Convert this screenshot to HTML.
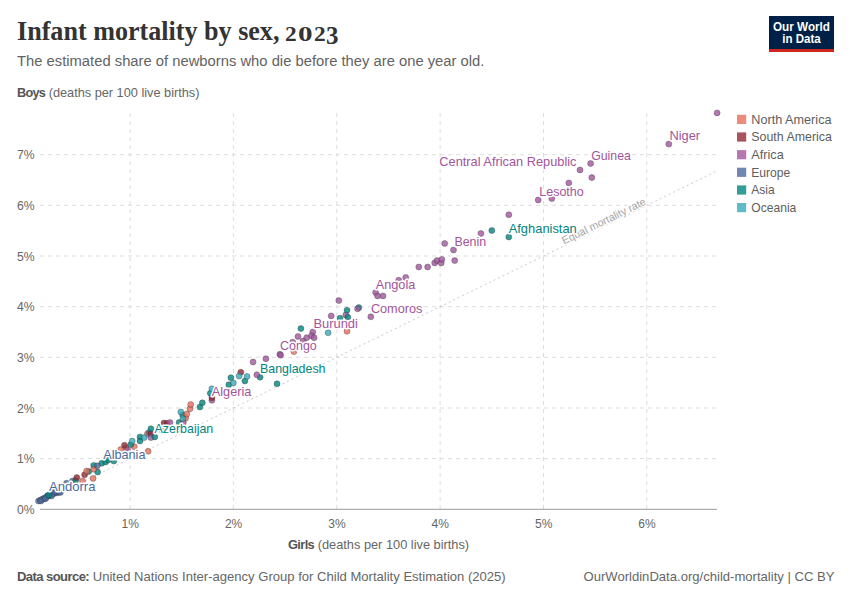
<!DOCTYPE html>
<html><head><meta charset="utf-8">
<style>
html,body{margin:0;padding:0;background:#fff;}
body{width:850px;height:600px;position:relative;overflow:hidden;font-family:"Liberation Sans",sans-serif;}
.t{position:absolute;white-space:nowrap;line-height:1;}
#title{left:16.6px;top:18.4px;font-family:"Liberation Serif",serif;font-weight:bold;font-size:26.7px;color:#333;transform:scaleX(0.978);transform-origin:0 0;}
#sub{left:16.5px;top:53.4px;font-size:15.3px;color:#636363;transform:scaleX(0.966);transform-origin:0 0;}
#ylab{left:16.6px;top:85.5px;font-size:13px;color:#666;transform:scaleX(0.98);transform-origin:0 0;}
#xlab{left:288.3px;top:538px;font-size:13px;color:#666;transform:scaleX(0.984);transform-origin:0 0;}
#foot{left:16.6px;top:570px;font-size:13px;color:#666;transform:scaleX(1.0045);transform-origin:0 0;}
#foot2{right:15.5px;top:570px;font-size:13px;color:#666;transform:scaleX(1.006);transform-origin:100% 0;}
#logo{position:absolute;left:769px;top:16px;width:65px;height:36px;background:#002147;}
#logo .bar{position:absolute;left:0;bottom:0;width:100%;height:3px;background:#ce261e;}
#logo .lt{position:absolute;left:0;width:100%;text-align:center;color:#fff;font-weight:bold;font-size:12px;line-height:12px;}
.yr{top:23.7px;font-family:"Liberation Serif",serif;font-weight:bold;font-size:20.5px;color:#333;}
svg{position:absolute;left:0;top:0;}
svg text{font-family:"Liberation Sans",sans-serif;}
.tk{font-size:13.2px;fill:#666;}
.lb{font-size:12.4px;stroke:#fff;stroke-width:2.8px;paint-order:stroke;stroke-linejoin:round;}
.lg{font-size:12.4px;fill:#5e5e5e;}
</style></head><body>
<div class="t" id="title">Infant mortality by sex,</div><div class="t yr" style="left:285.3px;transform:scaleX(1.14);transform-origin:0 0">2</div><div class="t yr" style="left:297.6px;transform:scaleX(1.42);transform-origin:0 0">0</div><div class="t yr" style="left:313.7px;transform:scaleX(1.14);transform-origin:0 0">2</div><div class="t yr" style="left:326px;top:23.2px;font-size:25px">3</div>
<div class="t" id="sub">The estimated share of newborns who die before they are one year old.</div>
<div class="t" id="ylab"><b style="letter-spacing:-0.78px;color:#555">Boys</b> (deaths per 100 live births)</div>
<div class="t" id="xlab"><b style="letter-spacing:-0.62px;color:#555">Girls</b> (deaths per 100 live births)</div>
<div class="t" id="foot"><b style="letter-spacing:-0.58px;color:#555">Data source:</b> United Nations Inter-agency Group for Child Mortality Estimation (2025)</div>
<div class="t" id="foot2">OurWorldinData.org/child-mortality | CC BY</div>
<div id="logo"><div class="lt" style="top:5px;left:0.1px;transform:scaleX(0.975)">Our World</div><div class="lt" style="top:17px;left:0.2px;transform:scaleX(0.96)">in Data</div><div class="bar"></div></div>
<svg width="850" height="600" viewBox="0 0 850 600">
<line x1="40" y1="458.6" x2="717" y2="458.6" stroke="#ddd" stroke-dasharray="4 4"/>
<line x1="40" y1="408.0" x2="717" y2="408.0" stroke="#ddd" stroke-dasharray="4 4"/>
<line x1="40" y1="357.3" x2="717" y2="357.3" stroke="#ddd" stroke-dasharray="4 4"/>
<line x1="40" y1="306.7" x2="717" y2="306.7" stroke="#ddd" stroke-dasharray="4 4"/>
<line x1="40" y1="256.0" x2="717" y2="256.0" stroke="#ddd" stroke-dasharray="4 4"/>
<line x1="40" y1="205.3" x2="717" y2="205.3" stroke="#ddd" stroke-dasharray="4 4"/>
<line x1="40" y1="154.7" x2="717" y2="154.7" stroke="#ddd" stroke-dasharray="4 4"/>
<line x1="130.1" y1="113" x2="130.1" y2="509" stroke="#ddd" stroke-dasharray="4 4"/>
<line x1="233.4" y1="113" x2="233.4" y2="509" stroke="#ddd" stroke-dasharray="4 4"/>
<line x1="336.8" y1="113" x2="336.8" y2="509" stroke="#ddd" stroke-dasharray="4 4"/>
<line x1="440.1" y1="113" x2="440.1" y2="509" stroke="#ddd" stroke-dasharray="4 4"/>
<line x1="543.5" y1="113" x2="543.5" y2="509" stroke="#ddd" stroke-dasharray="4 4"/>
<line x1="646.8" y1="113" x2="646.8" y2="509" stroke="#ddd" stroke-dasharray="4 4"/>
<line x1="40" y1="509.3" x2="717" y2="509.3" stroke="#999" stroke-width="1"/>
<line x1="40.2" y1="502.7" x2="717.1" y2="170.9" stroke="#bbb" stroke-width="0.8" stroke-dasharray="2 3"/>
<text x="564" y="244.6" transform="rotate(-26.11 564 244.6)" font-size="10.7" fill="#a4a4a4" stroke="#fff" stroke-width="2.5" paint-order="stroke">Equal mortality rate</text>
<text class="tk" x="34.6" y="513.9" text-anchor="end" textLength="17.6" lengthAdjust="spacingAndGlyphs">0%</text>
<text class="tk" x="34.6" y="463.2" text-anchor="end" textLength="17.6" lengthAdjust="spacingAndGlyphs">1%</text>
<text class="tk" x="34.6" y="412.6" text-anchor="end" textLength="17.6" lengthAdjust="spacingAndGlyphs">2%</text>
<text class="tk" x="34.6" y="361.9" text-anchor="end" textLength="17.6" lengthAdjust="spacingAndGlyphs">3%</text>
<text class="tk" x="34.6" y="311.3" text-anchor="end" textLength="17.6" lengthAdjust="spacingAndGlyphs">4%</text>
<text class="tk" x="34.6" y="260.6" text-anchor="end" textLength="17.6" lengthAdjust="spacingAndGlyphs">5%</text>
<text class="tk" x="34.6" y="209.9" text-anchor="end" textLength="17.6" lengthAdjust="spacingAndGlyphs">6%</text>
<text class="tk" x="34.6" y="159.3" text-anchor="end" textLength="17.6" lengthAdjust="spacingAndGlyphs">7%</text>
<text class="tk" x="130.3" y="527.9" text-anchor="middle" textLength="17.4" lengthAdjust="spacingAndGlyphs">1%</text>
<text class="tk" x="233.6" y="527.9" text-anchor="middle" textLength="17.4" lengthAdjust="spacingAndGlyphs">2%</text>
<text class="tk" x="337.0" y="527.9" text-anchor="middle" textLength="17.4" lengthAdjust="spacingAndGlyphs">3%</text>
<text class="tk" x="440.3" y="527.9" text-anchor="middle" textLength="17.4" lengthAdjust="spacingAndGlyphs">4%</text>
<text class="tk" x="543.7" y="527.9" text-anchor="middle" textLength="17.4" lengthAdjust="spacingAndGlyphs">5%</text>
<text class="tk" x="647.0" y="527.9" text-anchor="middle" textLength="17.4" lengthAdjust="spacingAndGlyphs">6%</text>
<circle cx="43.8" cy="498.8" r="3" fill="#00847E" fill-opacity="0.8" stroke="#333" stroke-opacity="0.7" stroke-width="0.5"/>
<circle cx="47.5" cy="495.8" r="3" fill="#00847E" fill-opacity="0.8" stroke="#333" stroke-opacity="0.7" stroke-width="0.5"/>
<circle cx="38.5" cy="501" r="3" fill="#4C6A9C" fill-opacity="0.8" stroke="#333" stroke-opacity="0.7" stroke-width="0.5"/>
<circle cx="40.5" cy="500" r="3" fill="#4C6A9C" fill-opacity="0.8" stroke="#333" stroke-opacity="0.7" stroke-width="0.5"/>
<circle cx="42.3" cy="499.3" r="3" fill="#4C6A9C" fill-opacity="0.8" stroke="#333" stroke-opacity="0.7" stroke-width="0.5"/>
<circle cx="44.2" cy="498.2" r="3" fill="#4C6A9C" fill-opacity="0.8" stroke="#333" stroke-opacity="0.7" stroke-width="0.5"/>
<circle cx="46.2" cy="497.2" r="3" fill="#4C6A9C" fill-opacity="0.8" stroke="#333" stroke-opacity="0.7" stroke-width="0.5"/>
<circle cx="48.3" cy="496.1" r="3" fill="#4C6A9C" fill-opacity="0.8" stroke="#333" stroke-opacity="0.7" stroke-width="0.5"/>
<circle cx="50.5" cy="495" r="3" fill="#4C6A9C" fill-opacity="0.8" stroke="#333" stroke-opacity="0.7" stroke-width="0.5"/>
<circle cx="52.6" cy="494" r="3" fill="#4C6A9C" fill-opacity="0.8" stroke="#333" stroke-opacity="0.7" stroke-width="0.5"/>
<circle cx="54.7" cy="493.3" r="3" fill="#4C6A9C" fill-opacity="0.8" stroke="#333" stroke-opacity="0.7" stroke-width="0.5"/>
<circle cx="56.8" cy="492.8" r="3" fill="#4C6A9C" fill-opacity="0.8" stroke="#333" stroke-opacity="0.7" stroke-width="0.5"/>
<circle cx="58.8" cy="492.3" r="3" fill="#4C6A9C" fill-opacity="0.8" stroke="#333" stroke-opacity="0.7" stroke-width="0.5"/>
<circle cx="54.2" cy="492.0" r="3" fill="#4C6A9C" fill-opacity="0.8" stroke="#333" stroke-opacity="0.7" stroke-width="0.5"/>
<circle cx="60.5" cy="492.4" r="3" fill="#4C6A9C" fill-opacity="0.8" stroke="#333" stroke-opacity="0.7" stroke-width="0.5"/>
<circle cx="41" cy="501" r="3" fill="#4C6A9C" fill-opacity="0.8" stroke="#333" stroke-opacity="0.7" stroke-width="0.5"/>
<circle cx="51.5" cy="496" r="3" fill="#4C6A9C" fill-opacity="0.8" stroke="#333" stroke-opacity="0.7" stroke-width="0.5"/>
<circle cx="45.5" cy="498.8" r="3" fill="#4C6A9C" fill-opacity="0.8" stroke="#333" stroke-opacity="0.7" stroke-width="0.5"/>
<circle cx="48.5" cy="495.2" r="3" fill="#00847E" fill-opacity="0.8" stroke="#333" stroke-opacity="0.7" stroke-width="0.5"/>
<circle cx="66.5" cy="483.2" r="3" fill="#4C6A9C" fill-opacity="0.8" stroke="#333" stroke-opacity="0.7" stroke-width="0.5"/>
<circle cx="72.5" cy="481" r="3" fill="#4C6A9C" fill-opacity="0.8" stroke="#333" stroke-opacity="0.7" stroke-width="0.5"/>
<circle cx="75.6" cy="480.4" r="3" fill="#00847E" fill-opacity="0.8" stroke="#333" stroke-opacity="0.7" stroke-width="0.5"/>
<circle cx="88.7" cy="471.6" r="3" fill="#00847E" fill-opacity="0.8" stroke="#333" stroke-opacity="0.7" stroke-width="0.5"/>
<circle cx="93.7" cy="465.4" r="3" fill="#00847E" fill-opacity="0.8" stroke="#333" stroke-opacity="0.7" stroke-width="0.5"/>
<circle cx="97.6" cy="471.9" r="3" fill="#00847E" fill-opacity="0.8" stroke="#333" stroke-opacity="0.7" stroke-width="0.5"/>
<circle cx="101.8" cy="463.3" r="3" fill="#00847E" fill-opacity="0.8" stroke="#333" stroke-opacity="0.7" stroke-width="0.5"/>
<circle cx="105.6" cy="462" r="3" fill="#00847E" fill-opacity="0.8" stroke="#333" stroke-opacity="0.7" stroke-width="0.5"/>
<circle cx="108.2" cy="460" r="3" fill="#00847E" fill-opacity="0.8" stroke="#333" stroke-opacity="0.7" stroke-width="0.5"/>
<circle cx="113.8" cy="461.1" r="3" fill="#00847E" fill-opacity="0.8" stroke="#333" stroke-opacity="0.7" stroke-width="0.5"/>
<circle cx="76.8" cy="477.6" r="3" fill="#932834" fill-opacity="0.8" stroke="#333" stroke-opacity="0.7" stroke-width="0.5"/>
<circle cx="84.6" cy="474.8" r="3" fill="#932834" fill-opacity="0.8" stroke="#333" stroke-opacity="0.7" stroke-width="0.5"/>
<circle cx="82.5" cy="481" r="3" fill="#E56E5A" fill-opacity="0.8" stroke="#333" stroke-opacity="0.7" stroke-width="0.5"/>
<circle cx="86.6" cy="471.1" r="3" fill="#E56E5A" fill-opacity="0.8" stroke="#333" stroke-opacity="0.7" stroke-width="0.5"/>
<circle cx="93.1" cy="478.4" r="3" fill="#E56E5A" fill-opacity="0.8" stroke="#333" stroke-opacity="0.7" stroke-width="0.5"/>
<circle cx="93.7" cy="469.2" r="3" fill="#E56E5A" fill-opacity="0.8" stroke="#333" stroke-opacity="0.7" stroke-width="0.5"/>
<circle cx="97.4" cy="465.8" r="3" fill="#4C6A9C" fill-opacity="0.8" stroke="#333" stroke-opacity="0.7" stroke-width="0.5"/>
<circle cx="120.6" cy="449.6" r="3" fill="#E56E5A" fill-opacity="0.8" stroke="#333" stroke-opacity="0.7" stroke-width="0.5"/>
<circle cx="125.9" cy="448.2" r="3" fill="#E56E5A" fill-opacity="0.8" stroke="#333" stroke-opacity="0.7" stroke-width="0.5"/>
<circle cx="134.3" cy="446.8" r="3" fill="#E56E5A" fill-opacity="0.8" stroke="#333" stroke-opacity="0.7" stroke-width="0.5"/>
<circle cx="147.4" cy="433.7" r="3" fill="#E56E5A" fill-opacity="0.8" stroke="#333" stroke-opacity="0.7" stroke-width="0.5"/>
<circle cx="148.1" cy="451.3" r="3" fill="#E56E5A" fill-opacity="0.8" stroke="#333" stroke-opacity="0.7" stroke-width="0.5"/>
<circle cx="149.2" cy="432.6" r="3" fill="#4C6A9C" fill-opacity="0.8" stroke="#333" stroke-opacity="0.7" stroke-width="0.5"/>
<circle cx="124.5" cy="445.3" r="3" fill="#932834" fill-opacity="0.8" stroke="#333" stroke-opacity="0.7" stroke-width="0.5"/>
<circle cx="150.9" cy="433.7" r="3" fill="#932834" fill-opacity="0.8" stroke="#333" stroke-opacity="0.7" stroke-width="0.5"/>
<circle cx="164" cy="423" r="3" fill="#932834" fill-opacity="0.8" stroke="#333" stroke-opacity="0.7" stroke-width="0.5"/>
<circle cx="167" cy="423.4" r="3" fill="#932834" fill-opacity="0.8" stroke="#333" stroke-opacity="0.7" stroke-width="0.5"/>
<circle cx="127.6" cy="449.9" r="3" fill="#A2559C" fill-opacity="0.8" stroke="#333" stroke-opacity="0.7" stroke-width="0.5"/>
<circle cx="150.9" cy="437.6" r="3" fill="#A2559C" fill-opacity="0.8" stroke="#333" stroke-opacity="0.7" stroke-width="0.5"/>
<circle cx="170" cy="422.6" r="3" fill="#A2559C" fill-opacity="0.8" stroke="#333" stroke-opacity="0.7" stroke-width="0.5"/>
<circle cx="130.8" cy="444.6" r="3" fill="#00847E" fill-opacity="0.8" stroke="#333" stroke-opacity="0.7" stroke-width="0.5"/>
<circle cx="140" cy="436.9" r="3" fill="#00847E" fill-opacity="0.8" stroke="#333" stroke-opacity="0.7" stroke-width="0.5"/>
<circle cx="140" cy="441.1" r="3" fill="#00847E" fill-opacity="0.8" stroke="#333" stroke-opacity="0.7" stroke-width="0.5"/>
<circle cx="150.9" cy="428.8" r="3" fill="#00847E" fill-opacity="0.8" stroke="#333" stroke-opacity="0.7" stroke-width="0.5"/>
<circle cx="154.8" cy="436.9" r="3" fill="#00847E" fill-opacity="0.8" stroke="#333" stroke-opacity="0.7" stroke-width="0.5"/>
<circle cx="162.5" cy="431" r="3" fill="#00847E" fill-opacity="0.8" stroke="#333" stroke-opacity="0.7" stroke-width="0.5"/>
<circle cx="132.2" cy="441.1" r="3" fill="#38AABA" fill-opacity="0.8" stroke="#333" stroke-opacity="0.7" stroke-width="0.5"/>
<circle cx="144.2" cy="437.6" r="3" fill="#38AABA" fill-opacity="0.8" stroke="#333" stroke-opacity="0.7" stroke-width="0.5"/>
<circle cx="185.6" cy="418.2" r="3" fill="#E56E5A" fill-opacity="0.8" stroke="#333" stroke-opacity="0.7" stroke-width="0.5"/>
<circle cx="179.1" cy="422.5" r="3" fill="#00847E" fill-opacity="0.8" stroke="#333" stroke-opacity="0.7" stroke-width="0.5"/>
<circle cx="182.6" cy="415.1" r="3" fill="#00847E" fill-opacity="0.8" stroke="#333" stroke-opacity="0.7" stroke-width="0.5"/>
<circle cx="199.9" cy="407" r="3" fill="#00847E" fill-opacity="0.8" stroke="#333" stroke-opacity="0.7" stroke-width="0.5"/>
<circle cx="202.3" cy="402.8" r="3" fill="#00847E" fill-opacity="0.8" stroke="#333" stroke-opacity="0.7" stroke-width="0.5"/>
<circle cx="210.3" cy="393.3" r="3" fill="#00847E" fill-opacity="0.8" stroke="#333" stroke-opacity="0.7" stroke-width="0.5"/>
<circle cx="183.3" cy="422.5" r="3" fill="#A2559C" fill-opacity="0.8" stroke="#333" stroke-opacity="0.7" stroke-width="0.5"/>
<circle cx="211.9" cy="400.3" r="3" fill="#A2559C" fill-opacity="0.8" stroke="#333" stroke-opacity="0.7" stroke-width="0.5"/>
<circle cx="180.8" cy="411.9" r="3" fill="#38AABA" fill-opacity="0.8" stroke="#333" stroke-opacity="0.7" stroke-width="0.5"/>
<circle cx="182.9" cy="418.6" r="3" fill="#38AABA" fill-opacity="0.8" stroke="#333" stroke-opacity="0.7" stroke-width="0.5"/>
<circle cx="211.9" cy="388.8" r="3" fill="#38AABA" fill-opacity="0.8" stroke="#333" stroke-opacity="0.7" stroke-width="0.5"/>
<circle cx="186.8" cy="414.1" r="3" fill="#E56E5A" fill-opacity="0.8" stroke="#333" stroke-opacity="0.7" stroke-width="0.5"/>
<circle cx="190" cy="408.8" r="3" fill="#E56E5A" fill-opacity="0.8" stroke="#333" stroke-opacity="0.7" stroke-width="0.5"/>
<circle cx="190.7" cy="404.5" r="3" fill="#E56E5A" fill-opacity="0.8" stroke="#333" stroke-opacity="0.7" stroke-width="0.5"/>
<circle cx="211.9" cy="397.8" r="3" fill="#932834" fill-opacity="0.8" stroke="#333" stroke-opacity="0.7" stroke-width="0.5"/>
<circle cx="240.8" cy="372.3" r="3" fill="#932834" fill-opacity="0.8" stroke="#333" stroke-opacity="0.7" stroke-width="0.5"/>
<circle cx="230.9" cy="377.7" r="3" fill="#00847E" fill-opacity="0.8" stroke="#333" stroke-opacity="0.7" stroke-width="0.5"/>
<circle cx="228.8" cy="384.7" r="3" fill="#00847E" fill-opacity="0.8" stroke="#333" stroke-opacity="0.7" stroke-width="0.5"/>
<circle cx="244.9" cy="381" r="3" fill="#00847E" fill-opacity="0.8" stroke="#333" stroke-opacity="0.7" stroke-width="0.5"/>
<circle cx="260.1" cy="377.2" r="3" fill="#00847E" fill-opacity="0.8" stroke="#333" stroke-opacity="0.7" stroke-width="0.5"/>
<circle cx="277" cy="383.8" r="3" fill="#00847E" fill-opacity="0.8" stroke="#333" stroke-opacity="0.7" stroke-width="0.5"/>
<circle cx="233.4" cy="383" r="3" fill="#38AABA" fill-opacity="0.8" stroke="#333" stroke-opacity="0.7" stroke-width="0.5"/>
<circle cx="239.1" cy="376" r="3" fill="#38AABA" fill-opacity="0.8" stroke="#333" stroke-opacity="0.7" stroke-width="0.5"/>
<circle cx="247" cy="376.4" r="3" fill="#38AABA" fill-opacity="0.8" stroke="#333" stroke-opacity="0.7" stroke-width="0.5"/>
<circle cx="256.8" cy="374.8" r="3" fill="#A2559C" fill-opacity="0.8" stroke="#333" stroke-opacity="0.7" stroke-width="0.5"/>
<circle cx="253.1" cy="362" r="3" fill="#A2559C" fill-opacity="0.8" stroke="#333" stroke-opacity="0.7" stroke-width="0.5"/>
<circle cx="265.9" cy="358.7" r="3" fill="#A2559C" fill-opacity="0.8" stroke="#333" stroke-opacity="0.7" stroke-width="0.5"/>
<circle cx="358.8" cy="307.6" r="3" fill="#00847E" fill-opacity="0.8" stroke="#333" stroke-opacity="0.7" stroke-width="0.5"/>
<circle cx="279.9" cy="354.2" r="3" fill="#A2559C" fill-opacity="0.8" stroke="#333" stroke-opacity="0.7" stroke-width="0.5"/>
<circle cx="280.6" cy="355.2" r="3" fill="#A2559C" fill-opacity="0.8" stroke="#333" stroke-opacity="0.7" stroke-width="0.5"/>
<circle cx="292.7" cy="342.2" r="3" fill="#A2559C" fill-opacity="0.8" stroke="#333" stroke-opacity="0.7" stroke-width="0.5"/>
<circle cx="298" cy="336.5" r="3" fill="#A2559C" fill-opacity="0.8" stroke="#333" stroke-opacity="0.7" stroke-width="0.5"/>
<circle cx="303" cy="341" r="3" fill="#A2559C" fill-opacity="0.8" stroke="#333" stroke-opacity="0.7" stroke-width="0.5"/>
<circle cx="306.7" cy="337.7" r="3" fill="#A2559C" fill-opacity="0.8" stroke="#333" stroke-opacity="0.7" stroke-width="0.5"/>
<circle cx="312.8" cy="332" r="3" fill="#A2559C" fill-opacity="0.8" stroke="#333" stroke-opacity="0.7" stroke-width="0.5"/>
<circle cx="311.6" cy="335.7" r="3" fill="#A2559C" fill-opacity="0.8" stroke="#333" stroke-opacity="0.7" stroke-width="0.5"/>
<circle cx="314.1" cy="337.7" r="3" fill="#A2559C" fill-opacity="0.8" stroke="#333" stroke-opacity="0.7" stroke-width="0.5"/>
<circle cx="331.2" cy="315.9" r="3" fill="#A2559C" fill-opacity="0.8" stroke="#333" stroke-opacity="0.7" stroke-width="0.5"/>
<circle cx="338.8" cy="300.6" r="3" fill="#A2559C" fill-opacity="0.8" stroke="#333" stroke-opacity="0.7" stroke-width="0.5"/>
<circle cx="345.8" cy="314.9" r="3" fill="#A2559C" fill-opacity="0.8" stroke="#333" stroke-opacity="0.7" stroke-width="0.5"/>
<circle cx="357.6" cy="308.8" r="3" fill="#A2559C" fill-opacity="0.8" stroke="#333" stroke-opacity="0.7" stroke-width="0.5"/>
<circle cx="370.8" cy="316.8" r="3" fill="#A2559C" fill-opacity="0.8" stroke="#333" stroke-opacity="0.7" stroke-width="0.5"/>
<circle cx="293.9" cy="351.6" r="3" fill="#E56E5A" fill-opacity="0.8" stroke="#333" stroke-opacity="0.7" stroke-width="0.5"/>
<circle cx="347" cy="331.2" r="3" fill="#E56E5A" fill-opacity="0.8" stroke="#333" stroke-opacity="0.7" stroke-width="0.5"/>
<circle cx="300.9" cy="328.6" r="3" fill="#00847E" fill-opacity="0.8" stroke="#333" stroke-opacity="0.7" stroke-width="0.5"/>
<circle cx="340" cy="318.2" r="3" fill="#00847E" fill-opacity="0.8" stroke="#333" stroke-opacity="0.7" stroke-width="0.5"/>
<circle cx="347" cy="310.2" r="3" fill="#00847E" fill-opacity="0.8" stroke="#333" stroke-opacity="0.7" stroke-width="0.5"/>
<circle cx="347.8" cy="317.2" r="3" fill="#00847E" fill-opacity="0.8" stroke="#333" stroke-opacity="0.7" stroke-width="0.5"/>
<circle cx="328.1" cy="332.8" r="3" fill="#38AABA" fill-opacity="0.8" stroke="#333" stroke-opacity="0.7" stroke-width="0.5"/>
<circle cx="375.6" cy="292.6" r="3" fill="#A2559C" fill-opacity="0.8" stroke="#333" stroke-opacity="0.7" stroke-width="0.5"/>
<circle cx="377.6" cy="295.9" r="3" fill="#A2559C" fill-opacity="0.8" stroke="#333" stroke-opacity="0.7" stroke-width="0.5"/>
<circle cx="383" cy="295.9" r="3" fill="#A2559C" fill-opacity="0.8" stroke="#333" stroke-opacity="0.7" stroke-width="0.5"/>
<circle cx="398.7" cy="280.2" r="3" fill="#A2559C" fill-opacity="0.8" stroke="#333" stroke-opacity="0.7" stroke-width="0.5"/>
<circle cx="405.7" cy="277.4" r="3" fill="#A2559C" fill-opacity="0.8" stroke="#333" stroke-opacity="0.7" stroke-width="0.5"/>
<circle cx="418.8" cy="267" r="3" fill="#A2559C" fill-opacity="0.8" stroke="#333" stroke-opacity="0.7" stroke-width="0.5"/>
<circle cx="427.6" cy="267" r="3" fill="#A2559C" fill-opacity="0.8" stroke="#333" stroke-opacity="0.7" stroke-width="0.5"/>
<circle cx="434.7" cy="262.9" r="3" fill="#A2559C" fill-opacity="0.8" stroke="#333" stroke-opacity="0.7" stroke-width="0.5"/>
<circle cx="437" cy="260.6" r="3" fill="#A2559C" fill-opacity="0.8" stroke="#333" stroke-opacity="0.7" stroke-width="0.5"/>
<circle cx="441.2" cy="262.9" r="3" fill="#A2559C" fill-opacity="0.8" stroke="#333" stroke-opacity="0.7" stroke-width="0.5"/>
<circle cx="441.8" cy="259.4" r="3" fill="#A2559C" fill-opacity="0.8" stroke="#333" stroke-opacity="0.7" stroke-width="0.5"/>
<circle cx="454.7" cy="260.6" r="3" fill="#A2559C" fill-opacity="0.8" stroke="#333" stroke-opacity="0.7" stroke-width="0.5"/>
<circle cx="453.5" cy="250" r="3" fill="#A2559C" fill-opacity="0.8" stroke="#333" stroke-opacity="0.7" stroke-width="0.5"/>
<circle cx="444.7" cy="243.5" r="3" fill="#A2559C" fill-opacity="0.8" stroke="#333" stroke-opacity="0.7" stroke-width="0.5"/>
<circle cx="480.9" cy="233.5" r="3" fill="#A2559C" fill-opacity="0.8" stroke="#333" stroke-opacity="0.7" stroke-width="0.5"/>
<circle cx="508.8" cy="214.7" r="3" fill="#A2559C" fill-opacity="0.8" stroke="#333" stroke-opacity="0.7" stroke-width="0.5"/>
<circle cx="538.2" cy="200" r="3" fill="#A2559C" fill-opacity="0.8" stroke="#333" stroke-opacity="0.7" stroke-width="0.5"/>
<circle cx="551.8" cy="198.6" r="3" fill="#A2559C" fill-opacity="0.8" stroke="#333" stroke-opacity="0.7" stroke-width="0.5"/>
<circle cx="568.8" cy="182.9" r="3" fill="#A2559C" fill-opacity="0.8" stroke="#333" stroke-opacity="0.7" stroke-width="0.5"/>
<circle cx="580" cy="170" r="3" fill="#A2559C" fill-opacity="0.8" stroke="#333" stroke-opacity="0.7" stroke-width="0.5"/>
<circle cx="590.6" cy="163.5" r="3" fill="#A2559C" fill-opacity="0.8" stroke="#333" stroke-opacity="0.7" stroke-width="0.5"/>
<circle cx="591.8" cy="177.6" r="3" fill="#A2559C" fill-opacity="0.8" stroke="#333" stroke-opacity="0.7" stroke-width="0.5"/>
<circle cx="668.8" cy="144.1" r="3" fill="#A2559C" fill-opacity="0.8" stroke="#333" stroke-opacity="0.7" stroke-width="0.5"/>
<circle cx="717.1" cy="112.9" r="3" fill="#A2559C" fill-opacity="0.8" stroke="#333" stroke-opacity="0.7" stroke-width="0.5"/>
<circle cx="491.8" cy="230.6" r="3" fill="#00847E" fill-opacity="0.8" stroke="#333" stroke-opacity="0.7" stroke-width="0.5"/>
<circle cx="508.8" cy="237" r="3" fill="#00847E" fill-opacity="0.8" stroke="#333" stroke-opacity="0.7" stroke-width="0.5"/>
<text class="lb" x="669.4" y="140.3" fill="#A2559C" textLength="30.7" lengthAdjust="spacingAndGlyphs">Niger</text>
<text class="lb" x="439.3" y="166" fill="#A2559C" textLength="137.2" lengthAdjust="spacingAndGlyphs">Central African Republic</text>
<text class="lb" x="591.2" y="159.6" fill="#A2559C" textLength="39.7" lengthAdjust="spacingAndGlyphs">Guinea</text>
<text class="lb" x="539.2" y="196.0" fill="#A2559C" textLength="44.6" lengthAdjust="spacingAndGlyphs">Lesotho</text>
<text class="lb" x="508.7" y="232.5" fill="#00847E" textLength="68.1" lengthAdjust="spacingAndGlyphs">Afghanistan</text>
<text class="lb" x="454.4" y="246.2" fill="#A2559C" textLength="31.8" lengthAdjust="spacingAndGlyphs">Benin</text>
<text class="lb" x="375.7" y="288.9" fill="#A2559C" textLength="39.7" lengthAdjust="spacingAndGlyphs">Angola</text>
<text class="lb" x="370.9" y="312.7" fill="#A2559C" textLength="51.5" lengthAdjust="spacingAndGlyphs">Comoros</text>
<text class="lb" x="313.4" y="328.1" fill="#A2559C" textLength="44.5" lengthAdjust="spacingAndGlyphs">Burundi</text>
<text class="lb" x="280.1" y="350.1" fill="#A2559C" textLength="36.7" lengthAdjust="spacingAndGlyphs">Congo</text>
<text class="lb" x="260.0" y="372.7" fill="#00847E" textLength="65.5" lengthAdjust="spacingAndGlyphs">Bangladesh</text>
<text class="lb" x="211.8" y="396.4" fill="#A2559C" textLength="39.6" lengthAdjust="spacingAndGlyphs">Algeria</text>
<text class="lb" x="154.6" y="433.4" fill="#00847E" textLength="58.6" lengthAdjust="spacingAndGlyphs">Azerbaijan</text>
<text class="lb" x="103.2" y="459.2" fill="#4C6A9C" textLength="42.3" lengthAdjust="spacingAndGlyphs">Albania</text>
<text class="lb" x="49.0" y="490.5" fill="#4C6A9C" textLength="46.4" lengthAdjust="spacingAndGlyphs">Andorra</text>
<rect x="737" y="114.8" width="9.2" height="9.2" fill="#E56E5A" fill-opacity="0.8"/>
<text class="lg" x="751.3" y="123.6" textLength="80.2" lengthAdjust="spacingAndGlyphs">North America</text>
<rect x="737" y="132.4" width="9.2" height="9.2" fill="#932834" fill-opacity="0.8"/>
<text class="lg" x="751.3" y="141.2" textLength="80.6" lengthAdjust="spacingAndGlyphs">South America</text>
<rect x="737" y="150.1" width="9.2" height="9.2" fill="#A2559C" fill-opacity="0.8"/>
<text class="lg" x="751.3" y="158.9" textLength="32.5" lengthAdjust="spacingAndGlyphs">Africa</text>
<rect x="737" y="167.7" width="9.2" height="9.2" fill="#4C6A9C" fill-opacity="0.8"/>
<text class="lg" x="751.3" y="176.5" textLength="39.0" lengthAdjust="spacingAndGlyphs">Europe</text>
<rect x="737" y="185.4" width="9.2" height="9.2" fill="#00847E" fill-opacity="0.8"/>
<text class="lg" x="751.3" y="194.2" textLength="23.4" lengthAdjust="spacingAndGlyphs">Asia</text>
<rect x="737" y="203.0" width="9.2" height="9.2" fill="#38AABA" fill-opacity="0.8"/>
<text class="lg" x="751.3" y="211.8" textLength="45.0" lengthAdjust="spacingAndGlyphs">Oceania</text>
</svg>
</body></html>
